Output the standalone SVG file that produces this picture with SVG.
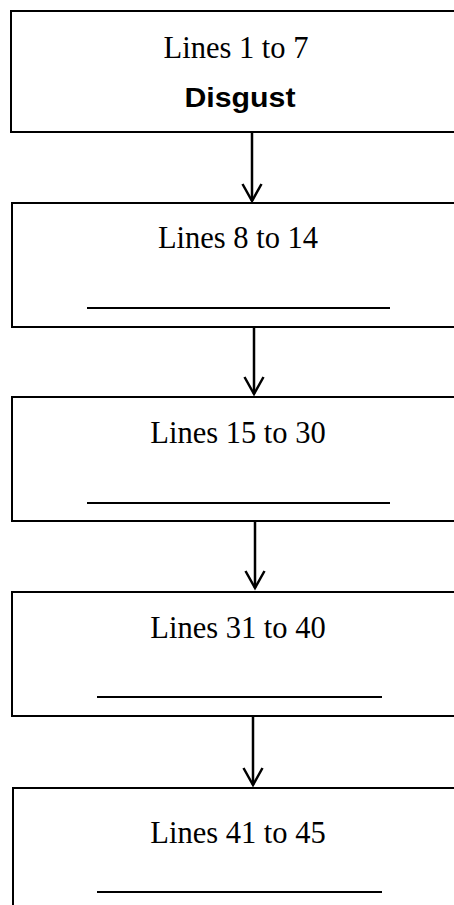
<svg xmlns="http://www.w3.org/2000/svg" width="454" height="905" viewBox="0 0 454 905">
<style>
.box{fill:#fff;stroke:#000;stroke-width:2}
.lbl{font-family:"Liberation Serif","Times New Roman",serif;font-size:30.5px;fill:#000;text-anchor:middle}
.bold{font-family:"Liberation Sans",Arial,sans-serif;font-size:27px;font-weight:bold;fill:#000;text-anchor:middle}
.blank{stroke:#000;stroke-width:2.2}
.conn{stroke:#000;stroke-width:2.5;fill:none;marker-end:url(#arr)}
</style>
<defs>
<marker id="arr" markerUnits="userSpaceOnUse" markerWidth="20" markerHeight="22" viewBox="-18 -11 20 22" refX="0" refY="0" orient="auto" overflow="visible">
<path d="M-17,-9.5 L0,0 L-17,9.5" fill="none" stroke="#000" stroke-width="2.5"/>
</marker>
</defs>
<rect width="454" height="905" fill="#fff"/>
<g id="node1">
<rect class="box" x="11" y="11" width="470" height="121"/>
<text class="lbl" x="236" y="58">Lines 1 to 7</text>
<text class="bold" x="240" y="107" textLength="111" lengthAdjust="spacingAndGlyphs">Disgust</text>
</g>
<g id="node2">
<rect class="box" x="12" y="203" width="470" height="124"/>
<text class="lbl" x="238" y="248">Lines 8 to 14</text>
<line class="blank" x1="87" y1="308" x2="390" y2="308"/>
</g>
<g id="node3">
<rect class="box" x="12" y="397" width="470" height="124"/>
<text class="lbl" x="238" y="443">Lines 15 to 30</text>
<line class="blank" x1="87" y1="503" x2="390" y2="503"/>
</g>
<g id="node4">
<rect class="box" x="12" y="592" width="470" height="124"/>
<text class="lbl" x="238" y="638">Lines 31 to 40</text>
<line class="blank" x1="97" y1="697" x2="382" y2="697"/>
</g>
<g id="node5">
<rect class="box" x="13" y="788" width="470" height="140"/>
<text class="lbl" x="238" y="843">Lines 41 to 45</text>
<line class="blank" x1="97" y1="892" x2="382" y2="892"/>
</g>
<g id="connectors">
<line class="conn" x1="252" y1="132" x2="252" y2="201"/>
<line class="conn" x1="254" y1="327" x2="254" y2="394"/>
<line class="conn" x1="255" y1="521" x2="255" y2="588"/>
<line class="conn" x1="253" y1="716" x2="253" y2="785"/>
</g>
</svg>
